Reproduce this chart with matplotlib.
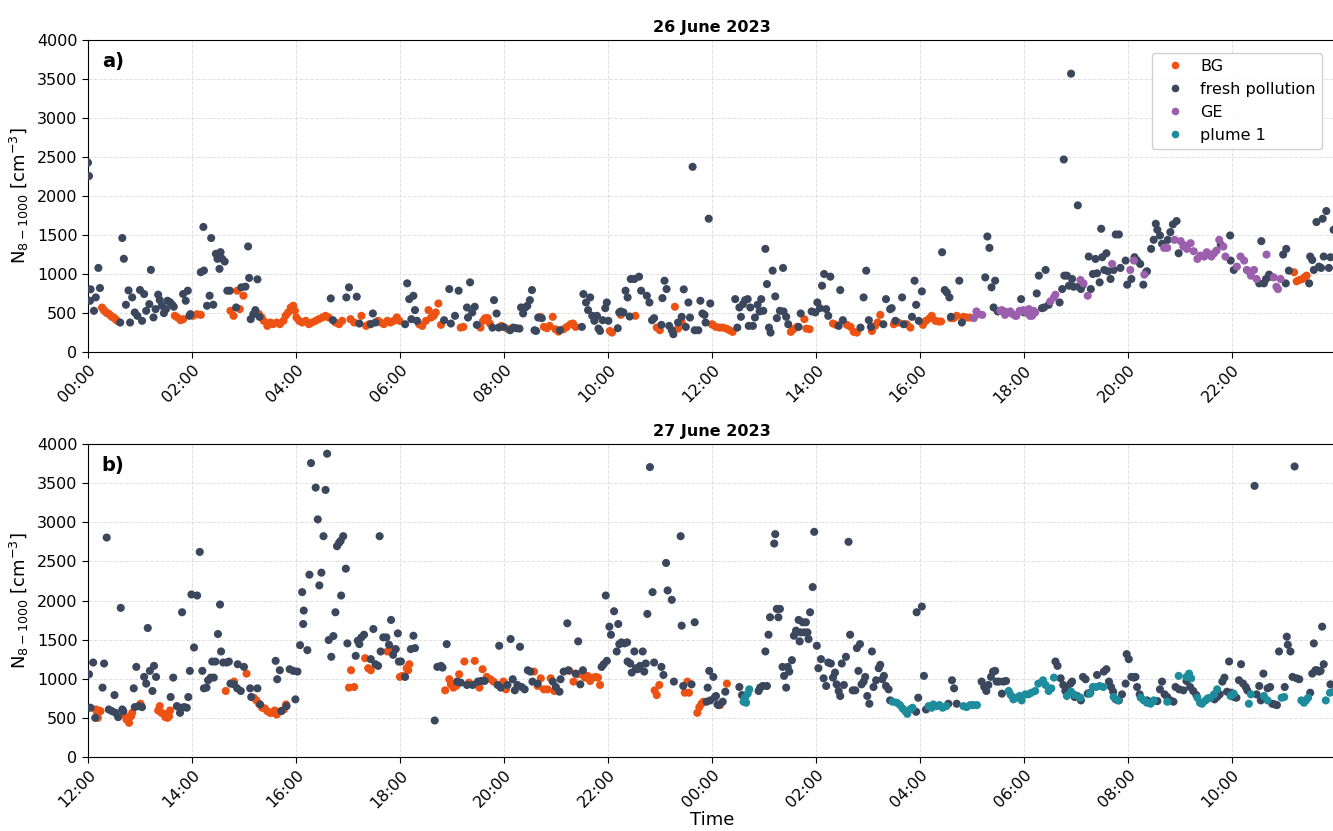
import numpy as np
import matplotlib
matplotlib.use("Agg")
import matplotlib.pyplot as plt
from matplotlib.lines import Line2D

# ---------------------------------------------------------------------------
# Particle number concentration N(8-1000 nm), (time [h], value [cm^-3])
# Panel a: 26 June 2023 (hours after midnight)
# ---------------------------------------------------------------------------
a_bg = [
    (0.27, 570), (0.30, 540), (0.33, 520), (0.36, 500), (0.40, 490), (0.43, 470), (0.46, 450),
    (0.50, 440), (0.53, 420), (0.56, 400), (1.67, 464), (1.72, 443), (1.78, 408), (1.83, 420),
    (2.02, 464), (2.10, 485), (2.17, 476), (2.74, 528), (2.80, 464), (2.87, 786), (2.92, 550),
    (2.99, 722), (3.29, 485), (3.34, 443), (3.38, 400), (3.45, 335), (3.51, 378), (3.56, 357),
    (3.63, 378), (3.69, 357), (3.76, 400), (3.80, 464), (3.85, 507), (3.90, 571), (3.95, 593),
    (3.98, 528), (4.01, 443), (4.06, 400), (4.12, 378), (4.19, 400), (4.25, 357), (4.31, 378),
    (4.38, 400), (4.44, 421), (4.51, 443), (4.57, 464), (4.63, 443), (4.76, 378), (4.83, 357),
    (4.89, 400), (5.05, 421), (5.12, 378), (5.26, 464), (5.35, 335), (5.41, 357), (5.58, 400),
    (5.63, 378), (5.69, 357), (5.76, 400), (5.82, 378), (5.88, 400), (5.94, 443), (5.99, 400),
    (6.37, 356), (6.43, 335), (6.50, 400), (6.55, 537), (6.60, 442), (6.65, 464), (6.69, 507),
    (6.74, 622), (6.79, 348), (7.17, 313), (7.22, 322), (7.55, 313), (7.60, 400), (7.64, 434),
    (7.69, 434), (7.73, 365), (7.95, 335), (8.06, 300), (8.70, 451), (8.77, 322), (8.83, 305),
    (8.88, 335), (8.94, 451), (8.99, 292), (9.05, 262), (9.15, 292), (9.21, 322), (9.28, 356),
    (9.33, 365), (9.38, 322), (10.04, 270), (10.08, 249), (10.25, 476), (10.53, 464),
    (10.94, 313), (11.00, 279), (11.29, 580), (11.35, 300), (11.42, 378), (12.00, 356),
    (12.02, 348), (12.08, 322), (12.15, 313), (12.21, 313), (12.28, 300), (12.34, 279),
    (12.40, 258), (13.52, 258), (13.57, 292), (13.64, 322), (13.78, 421), (13.82, 300),
    (13.88, 292), (14.33, 365), (14.39, 348), (14.60, 348), (14.67, 322), (14.73, 258),
    (14.79, 249), (15.08, 270), (15.14, 335), (15.19, 378), (15.24, 476), (15.50, 356),
    (15.59, 378), (15.75, 356), (15.82, 313), (16.06, 348), (16.12, 400), (16.19, 434),
    (16.23, 464), (16.30, 400), (16.36, 391), (16.41, 391), (16.60, 434), (16.65, 434),
    (16.71, 464), (16.84, 451), (16.90, 442), (16.96, 442), (23.20, 1022), (23.25, 906),
    (23.30, 923), (23.36, 936), (23.40, 957), (23.44, 979),
]

a_fresh = [
    (0.00, 2428), (0.02, 2256), (0.05, 804), (0.04, 657), (0.115, 528), (0.15, 700), (0.20, 1078),
    (0.23, 820), (0.62, 378), (0.66, 1461), (0.69, 1195), (0.73, 606), (0.78, 790), (0.81, 378),
    (0.85, 700), (0.90, 507), (0.95, 464), (1.00, 795), (1.04, 400), (1.08, 743), (1.12, 528),
    (1.18, 614), (1.21, 1053), (1.26, 443), (1.30, 550), (1.35, 735), (1.38, 666), (1.42, 593),
    (1.46, 498), (1.50, 550), (1.53, 657), (1.58, 636), (1.62, 606), (1.65, 580), (1.83, 743),
    (1.88, 657), (1.92, 786), (1.95, 464), (1.97, 485), (2.17, 1023), (2.23, 1044), (2.22, 1603),
    (2.29, 593), (2.34, 722), (2.37, 1461), (2.41, 606), (2.46, 1259), (2.49, 1195), (2.53, 1066),
    (2.55, 1280), (2.58, 1195), (2.63, 1160), (2.68, 786), (2.73, 786), (2.85, 571), (2.95, 829),
    (3.03, 838), (3.08, 1353), (3.10, 950), (3.13, 421), (3.18, 485), (3.22, 537), (3.26, 932),
    (3.30, 451), (4.67, 687), (4.71, 408), (4.97, 700), (5.02, 829), (5.17, 709), (5.22, 365),
    (5.48, 494), (5.44, 357), (5.53, 378), (6.10, 356), (6.14, 880), (6.18, 678), (6.26, 721),
    (6.29, 537), (6.22, 421), (6.33, 400), (6.85, 408), (6.95, 807), (6.98, 365), (7.06, 464),
    (7.13, 786), (7.29, 571), (7.31, 442), (7.35, 893), (7.39, 507), (7.44, 580), (7.48, 348),
    (7.78, 313), (7.81, 665), (7.86, 494), (7.90, 313), (7.99, 322), (8.12, 279), (8.18, 313),
    (8.24, 305), (8.30, 300), (8.33, 571), (8.37, 494), (8.41, 571), (8.45, 592), (8.50, 665),
    (8.54, 794), (8.59, 279), (8.62, 270), (8.66, 442), (8.73, 434), (9.08, 279), (9.50, 322),
    (9.53, 743), (9.58, 635), (9.62, 537), (9.66, 700), (9.70, 464), (9.74, 400), (9.79, 464),
    (9.82, 300), (9.85, 270), (9.90, 408), (9.95, 562), (9.98, 635), (10.01, 400), (10.19, 305),
    (10.22, 507), (10.25, 520), (10.30, 507), (10.34, 786), (10.38, 700), (10.42, 455),
    (10.44, 936), (10.51, 936), (10.60, 966), (10.64, 786), (10.75, 721), (10.80, 635),
    (10.85, 408), (10.89, 434), (11.03, 348), (11.05, 691), (11.09, 914), (11.13, 807),
    (11.18, 335), (11.23, 279), (11.26, 228), (11.35, 378), (11.42, 451), (11.46, 803),
    (11.50, 322), (11.55, 635), (11.58, 442), (11.63, 2374), (11.67, 279), (11.74, 279),
    (11.78, 657), (11.82, 494), (11.86, 476), (11.88, 378), (11.94, 1709), (11.97, 622),
    (12.45, 678), (12.49, 313), (12.53, 571), (12.56, 451), (12.60, 614), (12.64, 665),
    (12.69, 678), (12.71, 335), (12.74, 571), (12.79, 335), (12.83, 442), (12.88, 605),
    (12.92, 520), (12.95, 678), (12.99, 528), (13.03, 1322), (13.06, 871), (13.10, 313),
    (13.13, 249), (13.17, 1043), (13.22, 713), (13.25, 434), (13.31, 528), (13.37, 1078),
    (13.38, 520), (13.43, 451), (13.47, 356), (13.67, 322), (13.71, 494), (13.92, 520),
    (13.99, 507), (14.03, 635), (14.08, 562), (14.12, 850), (14.16, 1000), (14.20, 550),
    (14.24, 464), (14.28, 966), (14.44, 335), (14.47, 794), (14.52, 408), (14.86, 313),
    (14.92, 700), (14.97, 1043), (15.02, 408), (15.06, 322), (15.30, 356), (15.35, 678),
    (15.43, 550), (15.46, 562), (15.53, 400), (15.66, 700), (15.69, 356), (15.85, 451),
    (15.90, 914), (15.93, 605), (15.98, 400), (16.04, 777), (16.43, 1279), (16.48, 794),
    (16.52, 764), (16.57, 700), (16.60, 451), (16.76, 914), (16.81, 378), (17.26, 957),
    (17.30, 1481), (17.34, 1335), (17.38, 829), (17.42, 571), (17.45, 914), (17.50, 520),
    (17.95, 678), (18.01, 507), (18.25, 751), (18.29, 979), (18.35, 562), (18.39, 571),
    (18.42, 1052), (18.48, 605), (18.69, 635), (18.74, 807), (18.78, 979), (18.83, 979),
    (18.77, 2468), (18.91, 3568), (18.87, 850), (18.93, 936), (18.96, 837), (19.04, 1880),
    (19.06, 837), (19.10, 807), (19.14, 863), (19.25, 1224), (19.29, 807), (19.33, 1000),
    (19.38, 1193), (19.41, 1009), (19.46, 893), (19.49, 1580), (19.51, 1215), (19.55, 1052),
    (19.59, 1266), (19.62, 1035), (19.67, 936), (19.77, 1507), (19.83, 1507), (19.73, 1052),
    (19.86, 1078), (19.96, 1172), (19.99, 863), (20.07, 936), (20.13, 1215), (20.18, 1172),
    (20.24, 1129), (20.30, 863), (20.35, 1022), (20.37, 1035), (20.45, 1322), (20.50, 1438),
    (20.54, 1644), (20.57, 1567), (20.62, 1494), (20.66, 1387), (20.77, 1438), (20.82, 1537),
    (20.87, 1636), (20.94, 1679), (20.98, 1266), (21.79, 1378), (21.97, 1494), (21.98, 1172),
    (22.04, 1052), (22.53, 880), (22.57, 1421), (22.62, 880), (22.66, 936), (22.72, 992),
    (22.75, 966), (22.99, 1249), (23.05, 1322), (23.10, 1043), (23.04, 880), (23.49, 880),
    (23.51, 1224), (23.55, 1180), (23.58, 1052), (23.63, 1666), (23.68, 1095), (23.72, 1078),
    (23.75, 1709), (23.77, 1224), (23.82, 1807), (23.87, 1078), (23.90, 1215), (23.96, 1567),
]

a_ge = [
    (17.04, 434), (17.09, 520), (17.13, 485), (17.20, 476), (17.55, 528), (17.58, 537),
    (17.62, 520), (17.64, 476), (17.69, 507), (17.71, 507), (17.74, 520), (17.79, 485),
    (17.84, 464), (17.86, 464), (17.92, 528), (17.99, 537), (18.03, 520), (18.05, 507),
    (18.10, 550), (18.12, 464), (18.16, 464), (18.19, 528), (18.22, 507), (18.51, 648),
    (18.58, 700), (18.61, 734), (19.09, 923), (19.15, 880), (19.23, 721), (19.70, 1129),
    (20.05, 1052), (20.12, 1172), (20.32, 992), (20.70, 1335), (20.76, 1335), (20.90, 1438),
    (21.02, 1421), (21.07, 1352), (21.11, 1365), (21.14, 1322), (21.21, 1395), (21.27, 1292),
    (21.34, 1193), (21.40, 1236), (21.47, 1224), (21.52, 1279), (21.56, 1249), (21.61, 1224),
    (21.66, 1266), (21.71, 1301), (21.76, 1438), (21.84, 1352), (21.88, 1224), (22.10, 1095),
    (22.17, 1224), (22.24, 1172), (22.29, 1052), (22.33, 1035), (22.37, 979), (22.43, 1052),
    (22.48, 936), (22.67, 1249), (22.81, 957), (22.86, 837), (22.89, 807), (22.94, 936),
]

# ---------------------------------------------------------------------------
# Panel b: 27 June 2023 12:00 -> 28 June 12:00 (hours after 27 June 00:00)
# ---------------------------------------------------------------------------
b_bg = [
    (12.15, 608), (12.18, 565), (12.21, 595), (12.24, 587), (12.19, 501), (12.69, 544),
    (12.74, 480), (12.79, 437), (12.83, 522), (12.85, 565), (13.01, 681), (13.35, 595),
    (13.38, 651), (13.41, 565), (13.46, 552), (13.49, 510), (13.53, 501), (13.56, 522),
    (13.58, 595), (14.65, 844), (14.81, 964), (15.05, 1066), (15.19, 758), (15.24, 724),
    (15.29, 681), (15.35, 630), (15.40, 621), (15.45, 587), (15.50, 565), (15.54, 565),
    (15.59, 595), (15.63, 544), (15.71, 587), (15.77, 608), (15.81, 672), (17.02, 887),
    (17.06, 1109), (17.12, 895), (17.33, 1263), (17.39, 1135), (17.44, 1109), (17.76, 1349),
    (17.86, 1379), (18.00, 1024), (18.05, 1037), (18.13, 1135), (18.18, 1186), (18.16, 1109),
    (18.87, 852), (18.95, 994), (18.98, 929), (19.03, 887), (19.08, 908), (19.14, 1058),
    (19.24, 1221), (19.33, 951), (19.44, 1229), (19.53, 887), (19.59, 1122), (19.67, 1024),
    (19.74, 994), (19.80, 964), (19.99, 964), (20.04, 865), (20.58, 1092), (20.65, 908),
    (20.71, 1006), (20.77, 865), (20.84, 865), (20.90, 1006), (20.97, 844), (21.26, 1101),
    (21.34, 964), (21.42, 1058), (21.52, 1049), (21.56, 1015), (21.61, 1037), (21.66, 972),
    (21.71, 1015), (21.77, 1024), (21.81, 1015), (21.85, 921), (22.90, 852), (22.94, 792),
    (22.99, 921), (23.48, 822), (23.53, 964), (23.56, 822), (23.72, 565), (23.76, 638),
    (23.80, 681), (23.84, 707), (24.16, 664), (24.29, 938),
]

b_fresh = [
    (12.02, 1058), (12.05, 630), (12.10, 1208), (12.14, 501), (12.31, 1195), (12.28, 887),
    (12.36, 2805), (12.40, 608), (12.46, 587), (12.51, 792), (12.53, 565), (12.58, 510),
    (12.63, 1906), (12.66, 608), (12.68, 587), (12.88, 878), (12.90, 638), (12.93, 1152),
    (12.98, 651), (13.04, 638), (13.08, 1024), (13.12, 938), (13.15, 1649), (13.19, 1101),
    (13.24, 844), (13.27, 1165), (13.31, 1024), (13.59, 767), (13.64, 1015), (13.71, 651),
    (13.77, 565), (13.80, 630), (13.81, 1850), (13.85, 638), (13.90, 630), (13.93, 767),
    (13.96, 1101), (13.99, 2077), (14.04, 1400), (14.10, 2064), (14.15, 2621), (14.20, 1101),
    (14.23, 878), (14.28, 887), (14.31, 981), (14.36, 1015), (14.39, 1220), (14.42, 1015),
    (14.45, 1220), (14.50, 1572), (14.54, 1949), (14.56, 1349), (14.60, 1208), (14.67, 1208),
    (14.71, 1220), (14.74, 938), (14.81, 929), (14.87, 878), (14.88, 1186), (14.94, 844),
    (15.00, 1152), (15.12, 878), (15.14, 767), (15.26, 878), (15.31, 672), (15.61, 1229),
    (15.64, 994), (15.69, 1109), (15.72, 587), (15.82, 651), (15.88, 1122), (15.95, 1101),
    (15.99, 737), (16.03, 1092), (16.08, 1430), (16.12, 2107), (16.15, 1872), (16.14, 1700),
    (16.22, 1366), (16.26, 2330), (16.29, 3756), (16.38, 3443), (16.42, 3037), (16.45, 2193),
    (16.49, 2356), (16.53, 2822), (16.57, 3413), (16.60, 3876), (16.63, 1495), (16.68, 1281),
    (16.72, 1546), (16.76, 1850), (16.79, 2694), (16.83, 2737), (16.86, 2763), (16.91, 2822),
    (16.87, 2064), (16.96, 2407), (16.99, 1452), (17.15, 1293), (17.19, 1486), (17.22, 1443),
    (17.26, 1529), (17.31, 1563), (17.44, 1251), (17.49, 1636), (17.53, 1186), (17.58, 1165),
    (17.61, 2822), (17.63, 1349), (17.68, 1529), (17.74, 1529), (17.79, 1435), (17.83, 1752),
    (17.87, 1306), (17.92, 1379), (17.96, 1580), (17.98, 1220), (18.02, 1221), (18.10, 1024),
    (18.21, 1379), (18.26, 1550), (18.29, 1392), (18.67, 467), (18.72, 1152), (18.79, 1165),
    (18.82, 1143), (18.90, 1443), (19.10, 964), (19.17, 951), (19.29, 921), (19.40, 921),
    (19.50, 964), (19.56, 972), (19.63, 972), (19.88, 921), (19.91, 1422), (19.94, 887),
    (20.07, 921), (20.13, 1508), (20.17, 994), (20.21, 852), (20.26, 921), (20.31, 1409),
    (20.34, 895), (20.40, 865), (20.46, 1109), (20.51, 1092), (20.55, 964), (20.65, 938),
    (20.94, 964), (21.00, 895), (21.07, 835), (21.09, 994), (21.15, 1092), (21.22, 1709),
    (21.24, 1109), (21.38, 1066), (21.43, 1478), (21.47, 929), (21.52, 1109), (21.88, 1152),
    (21.92, 1186), (21.96, 2064), (21.98, 1229), (22.03, 1666), (22.06, 1563), (22.12, 1863),
    (22.17, 1349), (22.20, 1700), (22.22, 1443), (22.26, 1465), (22.32, 1452), (22.37, 1465),
    (22.38, 1221), (22.43, 1195), (22.46, 1079), (22.51, 1349), (22.54, 1135), (22.57, 1122),
    (22.62, 1165), (22.67, 1349), (22.70, 1092), (22.73, 1195), (22.76, 1829), (22.81, 3705),
    (22.86, 2107), (22.89, 1208), (23.03, 1152), (23.07, 1049), (23.12, 2480), (23.15, 2129),
    (23.23, 2009), (23.27, 964), (23.40, 2822), (23.42, 1679), (23.45, 908), (23.61, 929),
    (23.67, 1722), (23.92, 887), (23.95, 1101), (24.03, 1024), (24.08, 780), (23.90, 707),
    (23.97, 724), (24.11, 672), (24.06, 767), (24.13, 664), (24.21, 707), (24.26, 835),
    (24.53, 895), (24.58, 792), (24.90, 844), (24.93, 887), (24.98, 908), (25.03, 1349),
    (25.06, 908), (25.09, 1563), (25.12, 1786), (25.20, 2728), (25.22, 2848), (25.25, 1893),
    (25.28, 1786), (25.31, 1893), (25.36, 1152), (25.39, 1037), (25.43, 887), (25.46, 1152),
    (25.49, 1092), (25.54, 1238), (25.58, 1550), (25.62, 1615), (25.67, 1752), (25.69, 1478),
    (25.71, 1593), (25.75, 1722), (25.78, 1593), (25.81, 1722), (25.84, 1593), (25.86, 1508),
    (25.89, 1850), (25.94, 2172), (25.97, 2878), (26.02, 1422), (26.05, 1135), (26.10, 1251),
    (26.15, 1006), (26.20, 908), (26.24, 1208), (26.29, 1195), (26.33, 1015), (26.37, 1079),
    (26.40, 929), (26.44, 844), (26.47, 780), (26.50, 1195), (26.54, 921), (26.58, 1281),
    (26.63, 2750), (26.66, 1563), (26.71, 852), (26.76, 852), (26.79, 1392), (26.82, 1101),
    (26.85, 1443), (26.88, 929), (26.92, 964), (26.95, 1024), (26.99, 780), (27.03, 681),
    (27.08, 1349), (27.11, 895), (27.16, 981), (27.21, 1135), (27.24, 1178), (27.28, 994),
    (27.31, 1037), (27.35, 908), (27.40, 865), (27.43, 724), (27.93, 578), (27.97, 758),
    (27.94, 1850), (28.04, 1923), (28.08, 1037), (28.12, 608), (28.55, 681), (28.62, 981),
    (28.66, 878), (28.71, 681), (29.19, 964), (29.24, 895), (29.28, 844), (29.32, 921),
    (29.37, 1024), (29.41, 1092), (29.45, 1101), (29.48, 964), (29.53, 964), (29.58, 810),
    (29.61, 964), (29.66, 972), (30.61, 1221), (30.65, 1165), (30.71, 1006), (30.76, 921),
    (30.80, 844), (30.83, 865), (30.90, 938), (30.93, 964), (30.98, 767), (31.03, 780),
    (31.10, 724), (31.14, 1024), (31.19, 994), (31.23, 810), (31.28, 822), (31.41, 1049),
    (31.54, 1092), (31.59, 1122), (31.64, 964), (31.68, 895), (31.72, 835), (31.77, 737),
    (31.83, 724), (31.89, 801), (31.96, 938), (31.98, 1315), (32.02, 1251), (32.07, 1024),
    (32.12, 1015), (32.15, 1024), (32.18, 895), (32.23, 801), (32.37, 724), (32.47, 707),
    (32.57, 715), (32.62, 865), (32.66, 964), (32.71, 801), (32.76, 767), (32.82, 724),
    (32.88, 707), (32.92, 895), (32.99, 865), (33.07, 852), (33.13, 972), (33.20, 895),
    (33.26, 844), (33.32, 792), (33.67, 737), (33.72, 767), (33.77, 801), (33.82, 964),
    (33.86, 1015), (33.91, 835), (33.95, 1221), (33.99, 822), (34.04, 767), (34.09, 758),
    (34.14, 981), (34.18, 1186), (34.22, 938), (34.27, 895), (34.30, 852), (34.44, 3465),
    (34.48, 801), (34.53, 908), (34.56, 724), (34.61, 1066), (34.69, 878), (34.74, 895),
    (34.78, 681), (34.83, 672), (34.87, 664), (34.91, 1349), (35.02, 895), (35.06, 1538),
    (35.08, 1435), (35.13, 1349), (35.17, 1024), (35.21, 3713), (35.25, 1006), (35.30, 994),
    (35.51, 822), (35.55, 1066), (35.58, 1452), (35.61, 1109), (35.64, 1109), (35.68, 1092),
    (35.71, 1101), (35.74, 1666), (35.77, 1186), (35.90, 929),
]

b_plume = [
    (24.61, 707), (24.64, 758), (24.69, 810), (24.72, 865), (24.66, 694), (27.48, 707),
    (27.56, 694), (27.62, 664), (27.67, 621), (27.72, 587), (27.76, 552), (27.81, 608),
    (27.86, 630), (28.17, 651), (28.23, 630), (28.26, 672), (28.33, 651), (28.38, 664),
    (28.44, 630), (28.51, 651), (28.84, 651), (28.90, 638), (28.97, 664), (29.03, 664),
    (29.10, 664), (29.71, 844), (29.75, 792), (29.80, 737), (29.86, 758), (29.92, 780),
    (29.96, 724), (30.03, 801), (30.09, 801), (30.15, 822), (30.22, 844), (30.28, 938),
    (30.37, 981), (30.42, 921), (30.48, 844), (30.53, 878), (30.58, 1015), (30.83, 780),
    (30.91, 835), (30.99, 792), (31.09, 758), (31.27, 810), (31.33, 895), (31.39, 895),
    (31.46, 908), (31.53, 895), (31.73, 767), (31.81, 724), (32.25, 758), (32.31, 724),
    (32.37, 694), (32.44, 681), (32.50, 724), (32.76, 707), (32.98, 1037), (33.13, 1024),
    (33.18, 1066), (33.22, 1006), (33.34, 758), (33.39, 694), (33.43, 681), (33.50, 724),
    (33.54, 750), (33.59, 758), (33.66, 801), (33.72, 865), (33.98, 780), (34.04, 810),
    (34.33, 681), (34.37, 801), (34.62, 780), (34.69, 724), (34.96, 758), (35.01, 767),
    (35.34, 724), (35.39, 694), (35.43, 724), (35.47, 758), (35.81, 724), (35.89, 822),
    (35.96, 835),
]

categories = ["BG", "fresh pollution", "GE", "plume 1"]
colors = {"BG": "#ee5213", "fresh pollution": "#3b475c",
          "GE": "#9b5fae", "plume 1": "#1d8d9d"}

a_ticks = [0, 2, 4, 6, 8, 10, 12, 14, 16, 18, 20, 22]
a_ticklabels = ["00:00", "02:00", "04:00", "06:00", "08:00", "10:00",
                "12:00", "14:00", "16:00", "18:00", "20:00", "22:00"]
b_ticks = [12, 14, 16, 18, 20, 22, 24, 26, 28, 30, 32, 34]
b_ticklabels = ["12:00", "14:00", "16:00", "18:00", "20:00", "22:00",
                "00:00", "02:00", "04:00", "06:00", "08:00", "10:00"]
y_ticks = [0, 500, 1000, 1500, 2000, 2500, 3000, 3500, 4000]

panels = [
    {"title": "26 June 2023", "tag": "a)", "xlim": (0, 24),
     "ticks": a_ticks, "labels": a_ticklabels,
     "series": {"BG": a_bg, "fresh pollution": a_fresh, "GE": a_ge}},
    {"title": "27 June 2023", "tag": "b)", "xlim": (12, 36),
     "ticks": b_ticks, "labels": b_ticklabels,
     "series": {"BG": b_bg, "fresh pollution": b_fresh, "plume 1": b_plume}},
]

fig = plt.figure(figsize=(13.33, 8.31), dpi=100)
ax_a = fig.add_axes([0.066, 0.5764, 0.936, 0.3755])
ax_b = fig.add_axes([0.066, 0.0890, 0.936, 0.3767])

for ax, p in zip([ax_a, ax_b], panels):
    for cat in categories:
        if cat not in p["series"]:
            continue
        pts = np.array(p["series"][cat], dtype=float)
        ax.scatter(pts[:, 0], pts[:, 1], s=34, color=colors[cat],
                   edgecolors="none", zorder=3)
    ax.set_xlim(*p["xlim"])
    ax.set_ylim(0, 4000)
    ax.set_yticks(y_ticks)
    ax.set_xticks(p["ticks"])
    ax.set_xticklabels(p["labels"], rotation=45, ha="right",
                       rotation_mode="anchor")
    ax.tick_params(labelsize=11.5, length=4)
    ax.grid(True, color="#d9d9d9", linestyle="--", linewidth=0.7, alpha=0.8)
    ax.set_axisbelow(True)
    ax.set_title(p["title"], fontsize=11.5, fontweight="bold", pad=6)
    ax.set_ylabel(r"N$_{8-1000}$ [cm$^{-3}$]", fontsize=13)
    ax.text(0.011, 0.93, p["tag"], transform=ax.transAxes, fontsize=14,
            fontweight="bold", va="center", ha="left")

handles = [Line2D([], [], marker="o", linestyle="", markersize=5.5,
                  markerfacecolor=colors[c], markeredgecolor="none", label=c)
           for c in categories]
ax_a.legend(handles=handles, loc="upper right", fontsize=11.5,
            bbox_to_anchor=(0.9955, 0.985), handletextpad=0.6,
            framealpha=0.9, edgecolor="#cccccc")

ax_b.set_xlabel("Time", fontsize=13, labelpad=0)

fig.savefig("out.png", dpi=100)
